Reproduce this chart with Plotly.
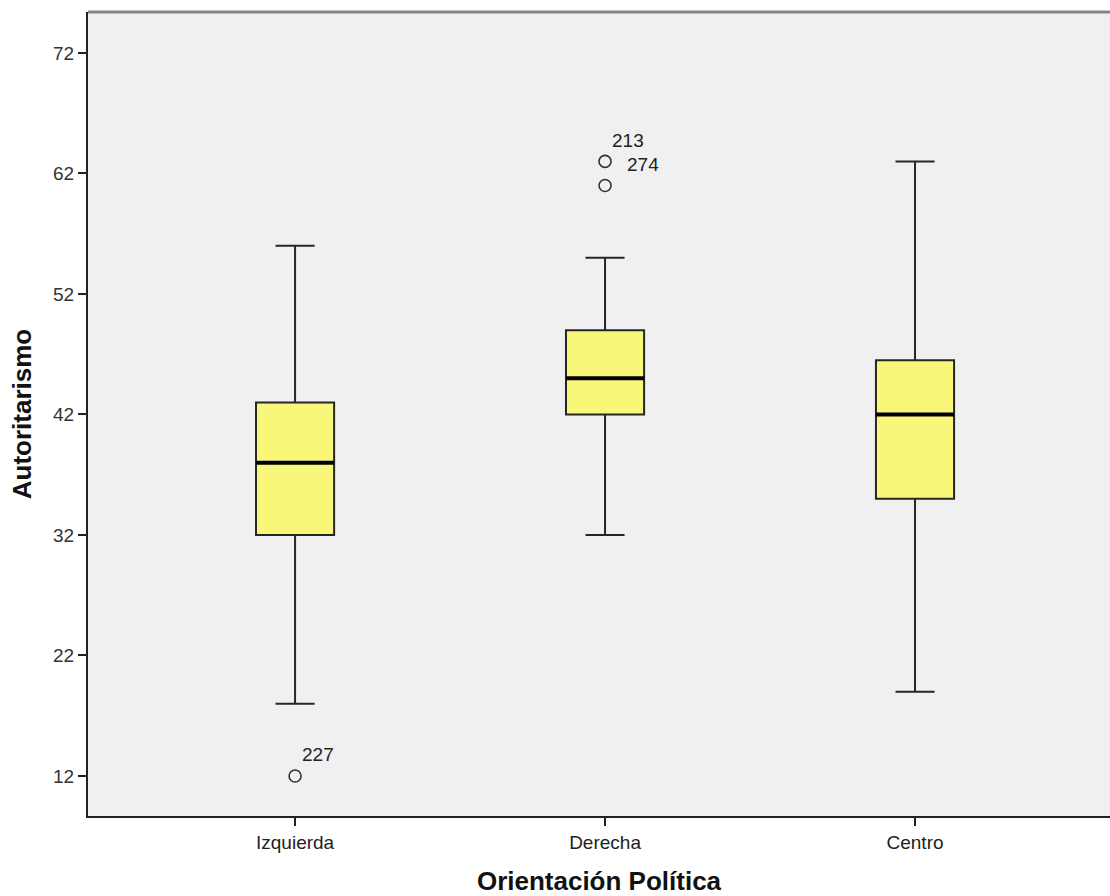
import plotly.graph_objects as go

categories = ["Izquierda", "Derecha", "Centro"]
q1 = [32, 42, 35]
median = [38, 45, 42]
q3 = [43, 49, 46.5]
lower_whisker = [18, 32, 19]
upper_whisker = [56, 55, 63]

outlier_cat = [0, 1, 1]
outlier_val = [12, 63, 61]
outlier_labels = [["227"], ["213", "274"], []]

y_ticks = [12, 22, 32, 42, 52, 62, 72]

FILL = "#F9F77A"
BOX_W = 0.252

fig = go.Figure()
pos = list(range(len(categories)))
for i, c in enumerate(categories):
    fig.add_trace(go.Box(
        x=[pos[i]], q1=[q1[i]], median=[median[i]], q3=[q3[i]],
        lowerfence=[lower_whisker[i]], upperfence=[upper_whisker[i]],
        width=BOX_W, whiskerwidth=0.5, fillcolor=FILL,
        line=dict(color="#262626", width=2),
        boxpoints=False, showlegend=False, hoverinfo="skip", name=c,
    ))
    # thick median line
    fig.add_trace(go.Scatter(
        x=[pos[i] - BOX_W / 2, pos[i] + BOX_W / 2], y=[median[i], median[i]],
        mode="lines", line=dict(color="black", width=4),
        showlegend=False, hoverinfo="skip",
    ))

fig.add_trace(go.Scatter(
    x=outlier_cat, y=outlier_val, mode="markers",
    marker=dict(symbol="circle-open", size=12, color="#333333", line=dict(width=1.6)),
    showlegend=False, hoverinfo="skip",
))

shifts = [(23, 21), (38, -3)]
for xc, yv, labs in zip(outlier_cat, outlier_val, outlier_labels):
    for k, lab in enumerate(labs):
        dx, dy = shifts[k]
        fig.add_annotation(x=xc, y=yv, text=lab, showarrow=False,
                           xshift=dx, yshift=dy,
                           font=dict(size=19, color="#222222", family="Liberation Sans"))

fig.add_shape(type="line", xref="paper", yref="paper", x0=0, x1=1, y0=1, y1=1,
              line=dict(color="#858585", width=3))

fig.update_layout(
    width=1110, height=896,
    margin=dict(l=88, r=0, t=12, b=80),
    paper_bgcolor="white", plot_bgcolor="#F0F0F0",
    font=dict(family="Liberation Sans", size=19, color="#333333"),
    xaxis=dict(range=[-0.668, 2.629], tickvals=pos, ticktext=categories,
               showgrid=False, zeroline=False, showline=True, linecolor="#222222", linewidth=2,
               ticks="outside", ticklen=8, tickcolor="#222222", tickwidth=1.5,
               tickfont=dict(size=19, color="#222222"), automargin=False,
               title=dict(text="<b>Orientación Política</b>", font=dict(size=26, color="#111111"), standoff=22)),
    yaxis=dict(range=[8.68, 75.4], tickvals=y_ticks,
               showgrid=False, zeroline=False, showline=True, linecolor="#222222", linewidth=2,
               ticks="outside", ticklen=8, tickcolor="#222222", tickwidth=1.5,
               tickfont=dict(size=19, color="#333333"), automargin=False,
               title=dict(text="<b>Autoritarismo</b>", font=dict(size=26, color="#111111"), standoff=14)),
)

fig.write_html("out.html", config={"displayModeBar": False},
               post_script="document.body.style.margin='0';document.body.style.overflow='hidden';")
